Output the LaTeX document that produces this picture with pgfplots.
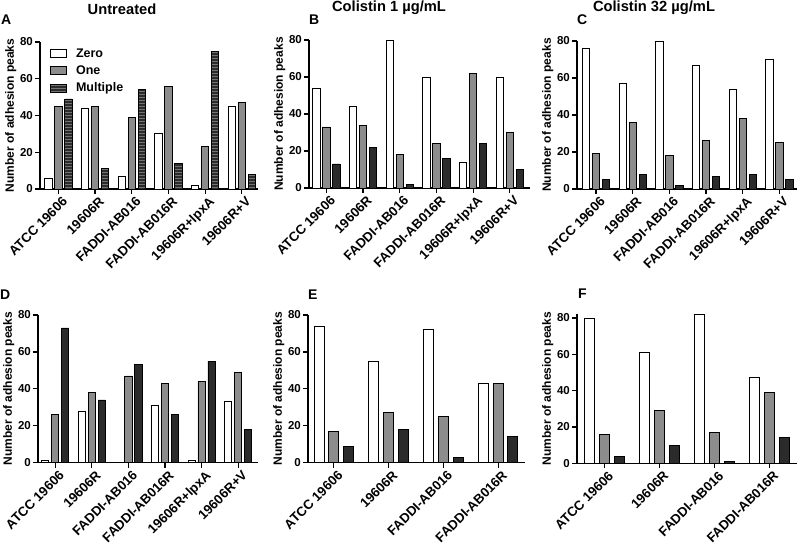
\documentclass[border=0pt]{standalone}
\usepackage{pgfplots}
\pgfplotsset{compat=1.18}
\usepackage{fontspec}
\setmainfont{Liberation Sans}
\usetikzlibrary{patterns}
\definecolor{oneg}{HTML}{8C8C8C}
\definecolor{multg}{HTML}{2B2B2B}
\pgfplotsset{
  panel/.style={
    scale only axis, anchor=south west,
    axis lines*=left, axis line style={line width=1.2pt},
    ymin=0, ymax=80, ytick={0,20,40,60,80},
    tick align=outside, major tick length=5pt,
    every tick/.style={line width=1.2pt, black},
    xticklabel style={rotate=45, anchor=north east, font=\bfseries\fontsize{13.2}{13.2}\selectfont, inner sep=1pt, xshift=2pt, yshift=-2.5pt},
    yticklabel style={font=\bfseries\fontsize{11.5}{12}\selectfont, inner sep=2pt},
    /pgf/number format/assume math mode=true,
    ylabel={Number of adhesion peaks},
    ylabel style={font=\bfseries\fontsize{12}{12}\selectfont, yshift=-2pt},
    ybar=2.7pt, bar width=7.3pt,
  },
  wide/.style={ybar=4.7pt, bar width=10pt},
  zero/.style={fill=white, draw=black, line width=0.8pt},
  one/.style={fill=oneg, draw=black, line width=0.8pt},
  mult/.style={fill=multg, draw=black, line width=0.8pt},
  multp/.style={fill=multg, draw=black, line width=0.8pt, postaction={pattern=horizontal lines, pattern color=black!55}},
}
\begin{document}
\begin{tikzpicture}
\path[use as bounding box] (0pt,0pt) rectangle (800pt,545pt);
% titles
\node[font=\bfseries\fontsize{14.7}{15}\selectfont] at (122pt,536pt) {Untreated};
\node[font=\bfseries\fontsize{14.7}{15}\selectfont] at (389pt,537pt) {Colistin 1 µg/mL};
\node[font=\bfseries\fontsize{14.7}{15}\selectfont] at (654pt,537pt) {Colistin 32 µg/mL};
% panel letters
\node[font=\bfseries\fontsize{14}{14}\selectfont, anchor=west, inner sep=0pt] at (1pt,525pt) {A};
\node[font=\bfseries\fontsize{14}{14}\selectfont, anchor=west, inner sep=0pt] at (309pt,525pt) {B};
\node[font=\bfseries\fontsize{14}{14}\selectfont, anchor=west, inner sep=0pt] at (577pt,525pt) {C};
\node[font=\bfseries\fontsize{14}{14}\selectfont, anchor=west, inner sep=0pt] at (0pt,250pt) {D};
\node[font=\bfseries\fontsize{14}{14}\selectfont, anchor=west, inner sep=0pt] at (308pt,250pt) {E};
\node[font=\bfseries\fontsize{14}{14}\selectfont, anchor=west, inner sep=0pt] at (578pt,251pt) {F};

% A
\begin{axis}[panel, at={(40pt,356pt)}, width=218pt, height=147pt,
  xmin=-0.5, xmax=5.44, xtick={0,...,5},
  xticklabels={ATCC 19606,19606R,FADDI-AB016,FADDI-AB016R,19606R+lpxA,19606R+V},
  legend style={at={(0.046,0.97)}, anchor=north west, draw=none, fill=none,
    font=\bfseries\fontsize{12.5}{12.5}\selectfont, row sep=3pt, inner sep=0pt,
    /tikz/every odd column/.style={column sep=7pt}},
  legend image code/.code={\draw[#1] (0pt,-4pt) rectangle (16pt,4pt);},
  legend cell align=left]
\addplot[zero] coordinates {(0,6) (1,44) (2,7) (3,30) (4,2) (5,45)};
\addplot[one] coordinates {(0,45) (1,45) (2,39) (3,56) (4,23) (5,47)};
\addplot[multp] coordinates {(0,49) (1,11) (2,54) (3,14) (4,75) (5,8)};
\legend{Zero,One,Multiple}
\end{axis}

% B
\begin{axis}[panel, at={(309pt,357pt)}, width=221pt, height=148pt,
  xmin=-0.47, xmax=5.55, xtick={0,...,5},
  xticklabels={ATCC 19606,19606R,FADDI-AB016,FADDI-AB016R,19606R+lpxA,19606R+V}]
\addplot[zero] coordinates {(0,54) (1,44) (2,80) (3,60) (4,14) (5,60)};
\addplot[one] coordinates {(0,33) (1,34) (2,18) (3,24) (4,62) (5,30)};
\addplot[mult] coordinates {(0,13) (1,22) (2,2) (3,16) (4,24) (5,10)};
\end{axis}

% C
\begin{axis}[panel, at={(577pt,356pt)}, width=220pt, height=148pt,
  xmin=-0.52, xmax=5.48, xtick={0,...,5},
  xticklabels={ATCC 19606,19606R,FADDI-AB016,FADDI-AB016R,19606R+lpxA,19606R+V}]
\addplot[zero] coordinates {(0,76) (1,57) (2,80) (3,67) (4,54) (5,70)};
\addplot[one] coordinates {(0,19) (1,36) (2,18) (3,26) (4,38) (5,25)};
\addplot[mult] coordinates {(0,5) (1,8) (2,2) (3,7) (4,8) (5,5)};
\end{axis}

% D
\begin{axis}[panel, at={(38pt,82.3pt)}, width=220pt, height=147.7pt,
  xmin=-0.47, xmax=5.54, xtick={0,...,5},
  xticklabels={ATCC 19606,19606R,FADDI-AB016,FADDI-AB016R,19606R+lpxA,19606R+V}]
\addplot[zero] coordinates {(0,1) (1,28) (2,0) (3,31) (4,1) (5,33)};
\addplot[one] coordinates {(0,26) (1,38) (2,47) (3,43) (4,44) (5,49)};
\addplot[mult] coordinates {(0,73) (1,34) (2,53) (3,26) (4,55) (5,18)};
\end{axis}

% E
\begin{axis}[panel, wide, at={(308pt,82.3pt)}, width=217pt, height=147.7pt,
  xmin=-0.47, xmax=3.49, xtick={0,...,3},
  xticklabels={ATCC 19606,19606R,FADDI-AB016,FADDI-AB016R}]
\addplot[zero] coordinates {(0,74) (1,55) (2,72) (3,43)};
\addplot[one] coordinates {(0,17) (1,27) (2,25) (3,43)};
\addplot[mult] coordinates {(0,9) (1,18) (2,3) (3,14)};
\end{axis}

% F
\begin{axis}[panel, wide, at={(577pt,81.7pt)}, width=220pt, height=149pt,
  ymax=82, xmin=-0.5, xmax=3.5, xtick={0,...,3},
  xticklabels={ATCC 19606,19606R,FADDI-AB016,FADDI-AB016R}]
\addplot[zero] coordinates {(0,80) (1,61) (2,82) (3,47)};
\addplot[one] coordinates {(0,16) (1,29) (2,17) (3,39)};
\addplot[mult] coordinates {(0,4) (1,10) (2,1) (3,14)};
\end{axis}
\end{tikzpicture}
\end{document}
